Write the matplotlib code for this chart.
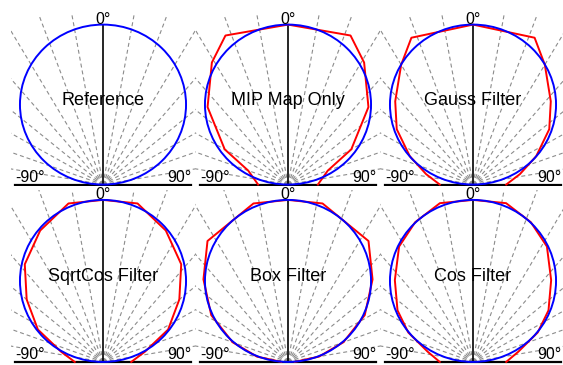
import numpy as np
import matplotlib
matplotlib.use("Agg")
from matplotlib import pyplot as plt
from matplotlib.patches import Circle

plt.rcParams['font.family'] = ['Liberation Sans', 'DejaVu Sans']

# panel names, row by row
titles = ["Reference", "MIP Map Only", "Gauss Filter",
          "SqrtCos Filter", "Box Filter", "Cos Filter"]

# reference lobe: peak value at 0 deg (a cos lobe -> circle)
ref_peak = 1.0

# red curves, one half (0..90 deg), mirrored for the other side
mip_deg = [0, 22, 31, 45, 60, 70, 90]
mip_r = [1.0, 1.005, 0.89, 0.685, 0.44, 0.255, 0.18]
gauss_deg = [0, 22, 30, 42, 53, 65, 77, 90]
gauss_r = [1.0, 0.99, 0.865, 0.70, 0.575, 0.42, 0.29, 0.2]
sqrtcos_deg = [0, 12, 25, 38, 50, 63, 76, 90]
sqrtcos_r = [1.0, 1.0, 0.895, 0.765, 0.6, 0.44, 0.26, 0.17]
box_deg = [0, 12, 33, 45, 58, 70, 80, 90]
box_r = [1.0, 1.0, 0.89, 0.72, 0.545, 0.355, 0.19, 0.04]
cos_deg = [0, 11.5, 22, 32, 43, 55, 65, 77, 90]
cos_r = [1.0, 1.0, 0.93, 0.84, 0.69, 0.555, 0.43, 0.28, 0.2]

red_curves = [None, (mip_deg, mip_r), (gauss_deg, gauss_r),
              (sqrtcos_deg, sqrtcos_r), (box_deg, box_r), (cos_deg, cos_r)]

grid_deg = [-80, -70, -60, -50, -40, -30, -20, -10, 10, 20, 30, 40, 50, 60, 70, 80]


def mirror(deg, r):
    deg = np.asarray(deg, float)
    r = np.asarray(r, float)
    d = np.concatenate([-deg[::-1], deg[1:]])
    rr = np.concatenate([r[::-1], r[1:]])
    return d, rr


fig = plt.figure(figsize=(5.63, 3.65), dpi=100)
W, H = 563.0, 365.0
lefts = [10.5 / W, 195.5 / W, 380.5 / W]
width = 185 / W
rows = [(0.490, 0.470), (0.004, 0.476)]

for i, name in enumerate(titles):
    bottom, height = rows[i // 3]
    ax = fig.add_axes([lefts[i % 3], bottom, width, height])
    ax.set_xlim(-0.557, 0.557)
    ax.set_ylim(-0.01, 1.0625)
    ax.axis('off')

    for g in grid_deg:
        t = np.radians(g)
        ax.plot([0, 2 * np.sin(t)], [0, 2 * np.cos(t)], color='#8c8c8c',
                lw=0.8, dashes=(3.6, 2.7), zorder=1)

    ax.plot([0, 0], [0, ref_peak], color='black', lw=1.2, zorder=2)
    ax.plot([-0.53, 0.53], [0, 0], color='black', lw=1.6, zorder=2)

    if red_curves[i] is not None:
        d, r = mirror(*red_curves[i])
        t = np.radians(d)
        ax.plot(r * np.sin(t), r * np.cos(t), color='red', lw=1.4, zorder=3)

    ax.add_patch(Circle((0, ref_peak / 2), ref_peak / 2, fill=False,
                        ec='blue', lw=1.4, zorder=4))

    ax.text(0, 1.005, '0°', ha='center', va='baseline', fontsize=11.5, zorder=5)
    ax.text(-0.53, 0.016, '-90°', ha='left', va='baseline', fontsize=11.5, zorder=5)
    ax.text(0.53, 0.016, '90°', ha='right', va='baseline', fontsize=11.5, zorder=5)
    ax.text(0, 0.5, name, ha='center', va='baseline', fontsize=13, zorder=5)

fig.savefig('out.png', dpi=100)
